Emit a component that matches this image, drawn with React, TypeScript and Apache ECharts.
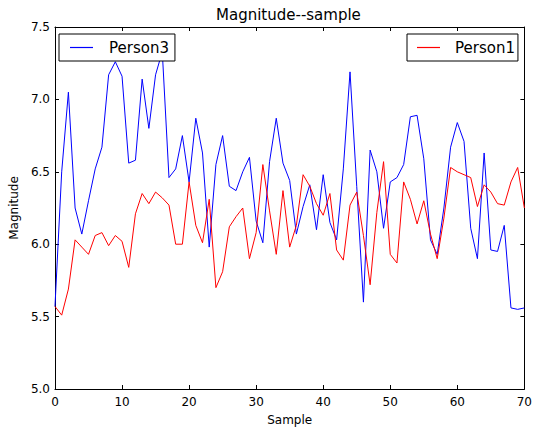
import React, { useEffect, useRef } from "react";
import * as echarts from "echarts";

const title = "Magnitude--sample";
const xName = "Sample";
const yName = "Magnitude";

const person3 = [
  5.57, 6.5, 7.05, 6.25, 6.07, 6.3, 6.52, 6.67, 7.17, 7.26,
  7.16, 6.56, 6.58, 7.14, 6.8, 7.17, 7.33, 6.46, 6.52, 6.75,
  6.43, 6.87, 6.63, 5.98, 6.55, 6.75, 6.4, 6.37, 6.5, 6.6,
  6.16, 6.01, 6.57, 6.87, 6.56, 6.44, 6.07, 6.26, 6.41, 6.1,
  6.48, 6.15, 6.03, 6.52, 7.19, 6.4, 5.6, 6.65, 6.5, 6.11,
  6.43, 6.46, 6.55, 6.88, 6.89, 6.59, 6.03, 5.93, 6.25, 6.67,
  6.84, 6.71, 6.11, 5.9, 6.63, 5.96, 5.95, 6.13, 5.56, 5.55,
  5.56,
];

const person1 = [
  5.57, 5.51, 5.69, 6.03, 5.98, 5.93, 6.06, 6.08, 5.99, 6.06,
  6.02, 5.84, 6.21, 6.35, 6.28, 6.36, 6.32, 6.27, 6.0, 6.0,
  6.43, 6.13, 6.01, 6.31, 5.7, 5.81, 6.12, 6.19, 6.25, 5.9,
  6.08, 6.55, 6.23, 5.93, 6.37, 5.98, 6.13, 6.48, 6.4, 6.28,
  6.2, 6.35, 5.96, 5.89, 6.27, 6.36, 6.06, 5.72, 6.22, 6.57,
  5.93, 5.87, 6.43, 6.31, 6.14, 6.3, 6.07, 5.9, 6.18, 6.53,
  6.5, 6.48, 6.46, 6.26, 6.41, 6.36, 6.28, 6.27, 6.43, 6.53,
  6.25,
];

const xRange = [0, 70];
const xStep = 10;
const yRange = [5.0, 7.5];
const yStep = 0.5;

const FONT = "DejaVu Sans";

export default function App() {
  const ref = useRef<HTMLDivElement>(null);
  useEffect(() => {
    if (!ref.current) return;
    const chart = echarts.init(ref.current, undefined, { renderer: "svg" });
    const tick = { show: true, inside: true, length: 4, lineStyle: { color: "#000", width: 1 } };
    const line = { show: true, onZero: false, lineStyle: { color: "#000", width: 1 } };
    const label = { color: "#000", fontFamily: FONT, fontSize: 12 };
    const toPairs = (arr: number[]) => arr.map((v, i) => [i, v]);
    chart.setOption({
      animation: false,
      backgroundColor: "#fff",
      title: {
        text: title,
        left: 216,
        top: 7,
        padding: 0,
        textStyle: { color: "#000", fontFamily: FONT, fontSize: 15, fontWeight: "normal" },
      },
      grid: { left: 52, right: 7, top: 27, bottom: 37 },
      legend: [
        {
          data: ["Person3"],
          left: 59,
          top: 34,
          orient: "horizontal",
          selectedMode: false,
          icon: "rect",
          itemWidth: 23,
          itemHeight: 1.2,
          borderColor: "#000",
          borderWidth: 1,
          borderRadius: 0,
          backgroundColor: "#fff",
          padding: [5, 6, 5, 11],
          textStyle: { color: "#000", fontFamily: FONT, fontSize: 15, lineHeight: 17, padding: [0, 0, 0, 11] },
        },
        {
          data: ["Person1"],
          left: 407,
          top: 34,
          orient: "horizontal",
          selectedMode: false,
          icon: "rect",
          itemWidth: 23,
          itemHeight: 1.2,
          borderColor: "#000",
          borderWidth: 1,
          borderRadius: 0,
          backgroundColor: "#fff",
          padding: [5, 3, 5, 10],
          textStyle: { color: "#000", fontFamily: FONT, fontSize: 15, lineHeight: 17, padding: [0, 0, 0, 10] },
        },
      ],
      xAxis: [
        {
          type: "value",
          min: xRange[0],
          max: xRange[1],
          interval: xStep,
          position: "bottom",
          name: xName,
          nameLocation: "middle",
          nameGap: 25,
          nameTextStyle: { color: "#000", fontFamily: FONT, fontSize: 12 },
          axisLine: line,
          axisTick: tick,
          axisLabel: { ...label, margin: 7 },
          splitLine: { show: false },
        },
        {
          type: "value",
          min: xRange[0],
          max: xRange[1],
          interval: xStep,
          position: "top",
          axisLine: line,
          axisTick: tick,
          axisLabel: { show: false },
          splitLine: { show: false },
        },
      ],
      yAxis: [
        {
          type: "value",
          min: yRange[0],
          max: yRange[1],
          interval: yStep,
          position: "left",
          name: yName,
          nameLocation: "middle",
          nameGap: 31,
          nameTextStyle: { color: "#000", fontFamily: FONT, fontSize: 12 },
          axisLine: line,
          axisTick: tick,
          axisLabel: { ...label, margin: 5, formatter: (v: number) => v.toFixed(1) },
          splitLine: { show: false },
        },
        {
          type: "value",
          min: yRange[0],
          max: yRange[1],
          interval: yStep,
          position: "right",
          axisLine: line,
          axisTick: tick,
          axisLabel: { show: false },
          splitLine: { show: false },
        },
      ],
      series: [
        {
          name: "Person3",
          type: "line",
          data: toPairs(person3),
          showSymbol: false,
          symbol: "none",
          color: "#0000ff",
          lineStyle: { color: "#0000ff", width: 1 },
          xAxisIndex: 0,
          yAxisIndex: 0,
        },
        {
          name: "Person1",
          type: "line",
          data: toPairs(person1),
          showSymbol: false,
          symbol: "none",
          color: "#ff0000",
          lineStyle: { color: "#ff0000", width: 1 },
          xAxisIndex: 0,
          yAxisIndex: 0,
        },
      ],
    });
    return () => chart.dispose();
  }, []);
  return (
    <div
      ref={ref}
      style={{ position: "fixed", left: 0, top: 0, width: 535, height: 431, background: "#fff" }}
    />
  );
}
